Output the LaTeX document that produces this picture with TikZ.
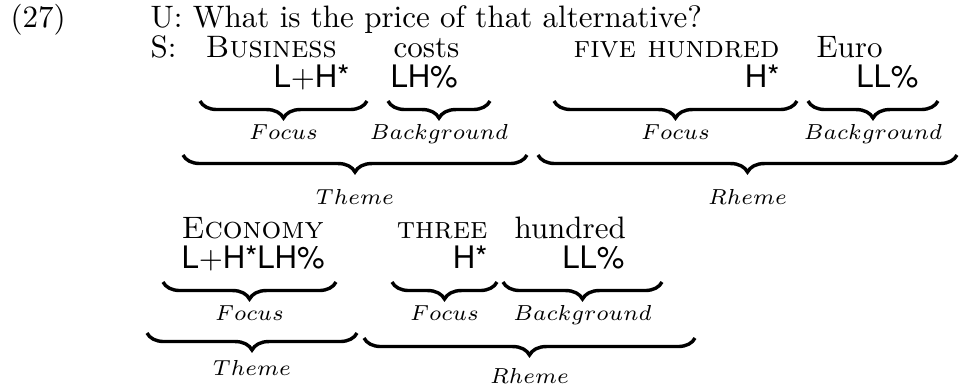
\documentclass[tikz,border=0pt]{standalone}
\usepackage{fontspec}
\newfontfamily\tonefont{TeX Gyre Heros}
\usetikzlibrary{decorations.pathreplacing}
\begin{document}
\begin{tikzpicture}[x=0.3226pt,y=-0.3226pt,
  txt/.style={inner sep=0pt,anchor=base west,font=\fontsize{10}{12}\selectfont},
  tone/.style={inner sep=0pt,font=\fontsize{10}{12}\selectfont\tonefont},
  lab/.style={inner sep=0pt,anchor=base,font=\fontsize{10}{12}\selectfont},
  ubrace/.style={decorate,decoration={brace,mirror,amplitude=5.5pt,aspect=0.5},line width=1.1pt}]
\useasboundingbox (0,0) rectangle (959,385);
% first utterance
\node[txt] (num) at (10,27) {(27)};
\node[txt] (u) at (150,27) {U: What is the price of that alternative?};
\node[txt] (s) at (150,57) {S:};
\node[txt] (w1) at (205,57) {\textsc{Business}};
\node[txt] (w2) at (393,57) {costs};
\node[txt,anchor=base east] (w3) at (780,57) {\textsc{five hundred}};
\node[txt] (w4) at (816,57) {Euro};
\node[tone,anchor=base east] (t1) at (350,87) {L$+$H*};
\node[tone,anchor=base west] (t2) at (390,87) {LH\%};
\node[tone,anchor=base east] (t3) at (780,87) {H*};
\node[tone,anchor=base east] (t4) at (919,87) {LL\%};
% braces row 1
\coordinate (f1a) at (200,101); \coordinate (f1b) at (367,101);
\coordinate (b1a) at (388,101); \coordinate (b1b) at (490,101);
\coordinate (f2a) at (554,101); \coordinate (f2b) at (797,101);
\coordinate (b2a) at (808,101); \coordinate (b2b) at (938,101);
\draw[ubrace] (f1a) -- (f1b);
\draw[ubrace] (b1a) -- (b1b);
\draw[ubrace] (f2a) -- (f2b);
\draw[ubrace] (b2a) -- (b2b);
\node[lab] (lf1) at (283.5,139) {$\scriptstyle Focus$};
\node[lab] (lb1) at (439,139) {$\scriptstyle Background$};
\node[lab] (lf2) at (675.5,139) {$\scriptstyle Focus$};
\node[lab] (lb2) at (873,139) {$\scriptstyle Background$};
\coordinate (th1a) at (183,155); \coordinate (th1b) at (527,155);
\coordinate (rh1a) at (538,155); \coordinate (rh1b) at (957,155);
\draw[ubrace] (th1a) -- (th1b);
\draw[ubrace] (rh1a) -- (rh1b);
\node[lab] (lth1) at (355,204) {$\scriptstyle Theme$};
\node[lab] (lrh1) at (747.5,204) {$\scriptstyle Rheme$};
% second utterance
\node[txt] (v1) at (181,238) {\textsc{Economy}};
\node[txt,anchor=base east] (v2) at (488,238) {\textsc{three}};
\node[txt] (v3) at (514,238) {hundred};
\node[tone,anchor=base west] (s1) at (181,268) {L$+$H*LH\%};
\node[tone,anchor=base east] (s2) at (488,268) {H*};
\node[tone,anchor=base east] (s3) at (625,268) {LL\%};
\coordinate (f3a) at (163,282); \coordinate (f3b) at (336,282);
\coordinate (f4a) at (392,282); \coordinate (f4b) at (497,282);
\coordinate (b3a) at (503,282); \coordinate (b3b) at (662,282);
\draw[ubrace] (f3a) -- (f3b);
\draw[ubrace] (f4a) -- (f4b);
\draw[ubrace] (b3a) -- (b3b);
\node[lab] (lf3) at (249.5,320) {$\scriptstyle Focus$};
\node[lab] (lf4) at (444.5,320) {$\scriptstyle Focus$};
\node[lab] (lb3) at (582.5,320) {$\scriptstyle Background$};
\coordinate (th2a) at (147,333); \coordinate (th2b) at (357,333);
\coordinate (rh2a) at (364,338); \coordinate (rh2b) at (695,338);
\draw[ubrace] (th2a) -- (th2b);
\draw[ubrace] (rh2a) -- (rh2b);
\node[lab] (lth2) at (252,375) {$\scriptstyle Theme$};
\node[lab] (lrh2) at (529.5,383) {$\scriptstyle Rheme$};
\end{tikzpicture}
\end{document}
